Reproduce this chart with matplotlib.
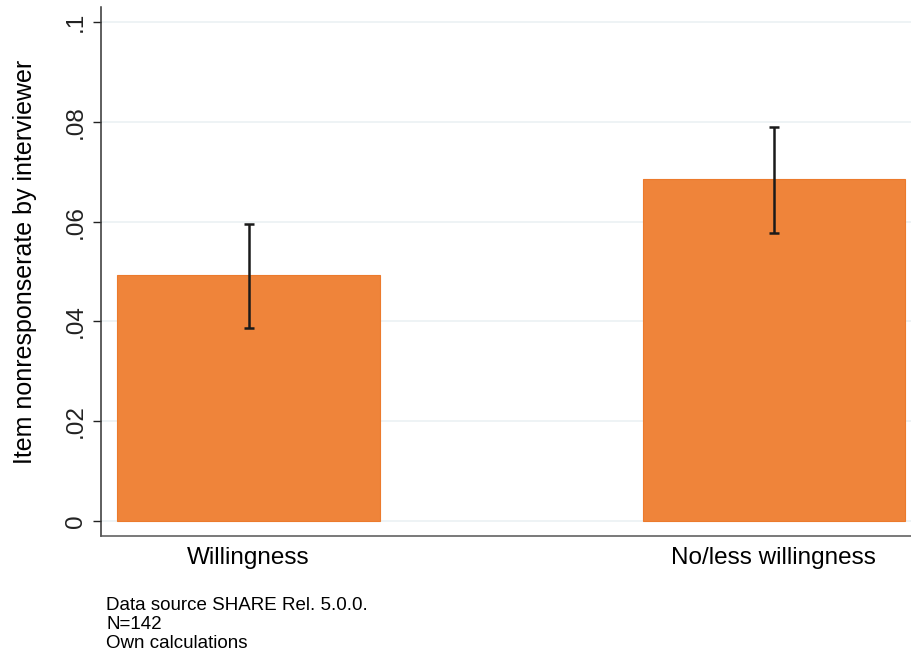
import numpy as np
import matplotlib.pyplot as plt

plt.rcParams['font.family'] = ['Liberation Sans', 'DejaVu Sans']

# Mean item nonresponse rate with 95% confidence intervals
groups = ["Willingness", "No/less willingness"]
means = [0.0492, 0.0685]
ci_low = [0.0387, 0.0578]
ci_high = [0.0595, 0.0790]
yticks = [0, 0.02, 0.04, 0.06, 0.08, 0.1]
yticklabels = ["0", ".02", ".04", ".06", ".08", ".1"]

fig = plt.figure(figsize=(9.11, 6.57), dpi=100)
ax = fig.add_axes([101 / 911, 121 / 657, 810 / 911, 529 / 657])

x = np.arange(len(groups))
means = np.array(means)
err = [means - np.array(ci_low), np.array(ci_high) - means]

ax.bar(x, means, width=0.5, color="#EF843A", edgecolor="#EC7A2C",
       linewidth=0.8, zorder=2)
ax.errorbar(x, means, yerr=err, fmt="none", ecolor="#1a1a1a",
            elinewidth=1.8, capsize=3.5, capthick=1.8, zorder=3)

ax.set_xlim(-0.281, 1.261)
ax.set_ylim(-0.003, 0.103)

ax.set_yticks(yticks)
ax.set_yticklabels(yticklabels, rotation=90, va="center", fontsize=17.5)
ax.tick_params(axis="y", length=6, width=1, pad=4, colors="#222222")
ax.set_xticks(x)
ax.set_xticklabels(groups, fontsize=17.5)
ax.tick_params(axis="x", length=0, pad=8)

ax.yaxis.grid(True, color="#EAF0F3", linewidth=1.1, zorder=0)
ax.set_axisbelow(True)

for side in ["top", "right"]:
    ax.spines[side].set_visible(False)
ax.spines["left"].set_color("#333333")
ax.spines["left"].set_linewidth(1.1)
ax.spines["bottom"].set_color("#555555")
ax.spines["bottom"].set_linewidth(1.1)

ax.set_ylabel("Item nonresponserate by interviewer", fontsize=18)
ax.yaxis.set_label_coords(-0.079, 0.518)

fig.text(106 / 911, 1 - 597 / 657,
         "Data source SHARE Rel. 5.0.0.\nN=142\nOwn calculations",
         fontsize=13.5, va="top", ha="left", linespacing=1.15)

fig.savefig("out.png", dpi=100)
